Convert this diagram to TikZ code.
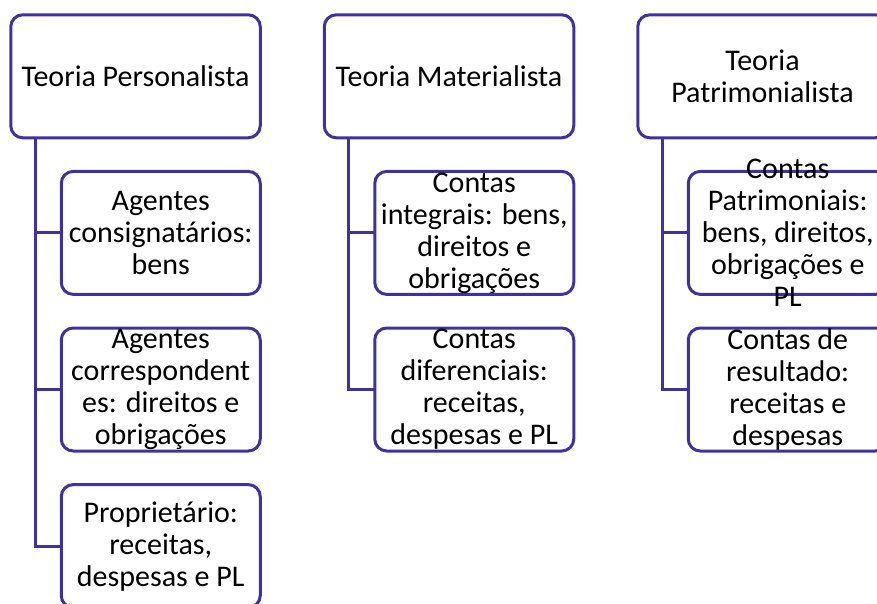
\documentclass[tikz,border=0pt]{standalone}
\usepackage{fontspec}
\setmainfont{Carlito}
\usetikzlibrary{positioning}
\definecolor{themeline}{RGB}{64,50,158}
\newcommand{\boxfont}{\fontsize{30}{32}\selectfont}
\tikzstyle{topbox} = [draw=themeline,line width=3pt,rounded corners=12pt,rectangle,minimum width=249.5pt,minimum height=123pt,inner sep=0pt,outer sep=0pt]
\tikzstyle{subbox} = [topbox,minimum width=199pt]
\tikzstyle{boxtext} = [align=center,font=\boxfont,inner sep=0pt]
\tikzstyle{link} = [draw=themeline,line width=3pt]

\begin{document}
\begin{tikzpicture}[node distance=313.5pt]
  \useasboundingbox (0,0) rectangle (877pt,-604pt);
  \clip (0,0) rectangle (877pt,-604pt);

  %top row
  \node[topbox] (pers) at (135.5pt,-76.3pt) {};
  \node[topbox,right of=pers] (mat) {};
  \node[topbox,right of=mat] (patr) {};

  %personalista
  \node[subbox,below=33.6pt of pers,xshift=25.25pt] (pers1) {};
  \node[subbox,below=33.6pt of pers1] (pers2) {};
  \node[subbox,below=33.6pt of pers2] (pers3) {};

  %materialista
  \node[subbox,below=33.6pt of mat,xshift=25.25pt] (mat1) {};
  \node[subbox,below=33.6pt of mat1] (mat2) {};

  %patrimonialista
  \node[subbox,below=33.6pt of patr,xshift=25.25pt] (patr1) {};
  \node[subbox,below=33.6pt of patr1] (patr2) {};

  %texts
  \node[boxtext] (pers-t) at (pers) {Teoria Personalista};
  \node[boxtext] (mat-t) at (mat) {Teoria Materialista};
  \node[boxtext] (patr-t) at (patr) {Teoria\\Patrimonialista};
  \node[boxtext] (pers1-t) at (pers1) {Agentes\\consignatários:\\bens};
  \node[boxtext] (pers2-t) at (pers2) {Agentes\\correspondent\\es: direitos e\\obrigações};
  \node[boxtext] (pers3-t) at (pers3) {Proprietário:\\receitas,\\despesas e PL};
  \node[boxtext] (mat1-t) at (mat1) {Contas\\integrais: bens,\\direitos e\\obrigações};
  \node[boxtext] (mat2-t) at (mat2) {Contas\\diferenciais:\\receitas,\\despesas e PL};
  \node[boxtext] (patr1-t) at (patr1) {Contas\\Patrimoniais:\\bens, direitos,\\obrigações e\\PL};
  \node[boxtext] (patr2-t) at (patr2) {Contas de\\resultado:\\receitas e\\despesas};

  %connectors
  \coordinate[right=24.5pt of pers.south west] (pers-j);
  \coordinate[right=24.5pt of mat.south west] (mat-j);
  \coordinate[right=24.5pt of patr.south west] (patr-j);
  \draw[link] (pers-j) |- (pers1.west);
  \draw[link] (pers-j) |- (pers2.west);
  \draw[link] (pers-j) |- (pers3.west);
  \draw[link] (mat-j) |- (mat1.west);
  \draw[link] (mat-j) |- (mat2.west);
  \draw[link] (patr-j) |- (patr1.west);
  \draw[link] (patr-j) |- (patr2.west);

\end{tikzpicture}
\end{document}
